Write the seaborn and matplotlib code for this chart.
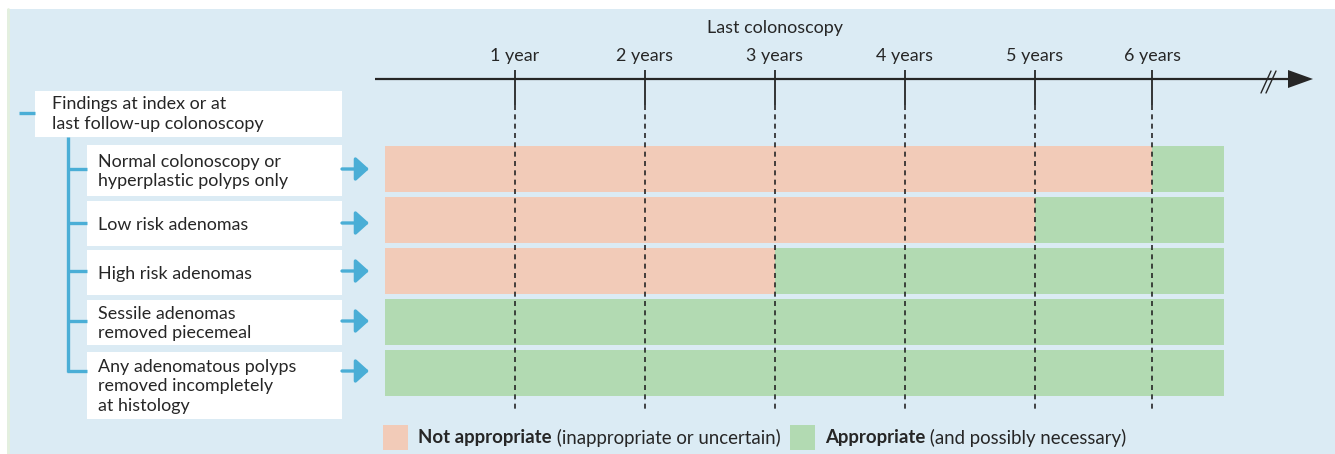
import matplotlib
matplotlib.use("Agg")
import matplotlib.pyplot as plt
from matplotlib.patches import Rectangle, Polygon, FancyArrowPatch
import pandas as pd
import seaborn as sns

# data
findings = [
    "Normal colonoscopy or\nhyperplastic polyps only",
    "Low risk adenomas",
    "High risk adenomas",
    "Sessile adenomas\nremoved piecemeal",
    "Any adenomatous polyps\nremoved incompletely\nat histology",
]
not_appropriate_until = [5.9, 5.0, 3.0, 0.0, 0.0]
appropriate_until = [6.45, 6.45, 6.45, 6.45, 6.45]
tick_years = [1, 2, 3, 4, 5, 5.9]
tick_labels = ["1 year", "2 years", "3 years", "4 years", "5 years", "6 years"]
header = "Findings at index or at\nlast follow-up colonoscopy"
axis_title = "Last colonoscopy"
legend_bold = ["Not appropriate", "Appropriate"]
legend_rest = [" (inappropriate or uncertain)", " (and possibly necessary)"]

# style
PINK = "#f2cbb8"
GREEN = "#b2dab2"
BG = "#dbebf4"
BLUE = "#4aaed6"
DARK = "#262626"
W, H = 1335, 454
X0, PX_YEAR = 385, 130          # pixel of year 0, pixels per year
ROW0, ROW_STEP = 169, 51.1      # pixel centre of first row, row spacing

sns.set_theme(style="white")
plt.rcParams["font.family"] = ["Lato", "DejaVu Sans"]
FS = 12.9
FS_LEG = 13.4
LS = 1.3

df = pd.DataFrame({"finding": findings,
                   "not_app": not_appropriate_until,
                   "app": appropriate_until})

fig = plt.figure(figsize=(W / 100, H / 100), dpi=100)
fig.patch.set_facecolor("white")

deco = fig.add_axes([0, 0, 1, 1], zorder=0)
deco.set_xlim(0, W)
deco.set_ylim(H, 0)
deco.axis("off")

ax = fig.add_axes([X0 / W, 0, 7 * PX_YEAR / W, 1], zorder=1)
ax.patch.set_alpha(0)


def py(px):
    return (px - ROW0) / ROW_STEP


# background panel
deco.add_patch(Rectangle((7, 9), W - 7, H - 9, facecolor=BG, edgecolor="none"))
deco.plot([7.5, 7.5], [9, H], color="#e4f0de", lw=2)

# bars
sns.barplot(data=df, x="app", y="finding", color=GREEN, saturation=1,
            width=0.9, linewidth=0, orient="h", ax=ax)
sns.barplot(data=df, x="not_app", y="finding", color=PINK, saturation=1,
            width=0.9, linewidth=0, orient="h", ax=ax)
ax.set_xlim(0, 7)
ax.set_ylim(py(H), py(0))
ax.axis("off")

# timeline
deco.plot([375, 1292], [79, 79], color=DARK, lw=1.6, solid_capstyle="butt")
deco.add_patch(Polygon([[1288, 70], [1313, 79], [1288, 88]], closed=True,
                       facecolor=DARK, edgecolor="none"))
for dx in (0, 5):
    deco.plot([1261 + dx, 1271 + dx], [93, 71], color=DARK, lw=1.0)
ax.plot([0 - 2 / PX_YEAR] * 2, [py(66), py(103)], color=DARK, lw=1.3)
ax.vlines(tick_years, py(70), py(105), color=DARK, lw=1.3)
ax.vlines(tick_years, py(105), py(410), color=DARK, lw=1.2,
          linestyles=(0, (3, 2.6)))
for x, lab in zip(tick_years, tick_labels):
    ax.text(x, py(56), lab, ha="center", va="center", fontsize=FS, color=DARK)
deco.text(775, 28, axis_title, ha="center", va="center", fontsize=FS, color=DARK)

# left tree
deco.add_patch(Rectangle((35, 91), 307, 46, facecolor="white", edgecolor="none"))
deco.text(52, 114, header, ha="left", va="center", fontsize=FS, color=DARK,
          linespacing=LS)
deco.plot([19, 35], [113, 113], color=BLUE, lw=2.4, solid_capstyle="butt")

boxes = [(145, 196), (201, 246), (250, 295), (300, 345), (352, 419)]
arrow_y = [169, 223, 271, 321, 371]
deco.plot([68, 68], [137, 372], color=BLUE, lw=2.4, solid_capstyle="butt")
for (y0, y1), label, ay in zip(boxes, findings, arrow_y):
    deco.add_patch(Rectangle((87, y0), 255, y1 - y0, facecolor="white",
                             edgecolor="none"))
    deco.text(98, (y0 + y1) / 2 + 1, label, ha="left", va="center",
              fontsize=FS, color=DARK, linespacing=LS)
    deco.plot([67, 87], [ay, ay], color=BLUE, lw=2.4, solid_capstyle="butt")
    deco.add_patch(FancyArrowPatch((342, ay), (369, ay),
                                   arrowstyle="-|>,head_length=0.8,head_width=0.72",
                                   mutation_scale=10, color=BLUE, lw=2.4,
                                   shrinkA=0, shrinkB=0))

# legend
renderer = fig.canvas.get_renderer()
for x, col, bold, rest in zip([383, 790], [PINK, GREEN], legend_bold, legend_rest):
    deco.add_patch(Rectangle((x, 425), 25, 25, facecolor=col, edgecolor="none"))
    t = deco.text(x + 35, 438, bold, ha="left", va="center", fontsize=FS_LEG,
                  fontweight="bold", color=DARK)
    bb = t.get_window_extent(renderer)
    deco.text(bb.x1, 438, rest, ha="left", va="center", fontsize=FS_LEG, color=DARK)

fig.savefig("out.png", dpi=100)
